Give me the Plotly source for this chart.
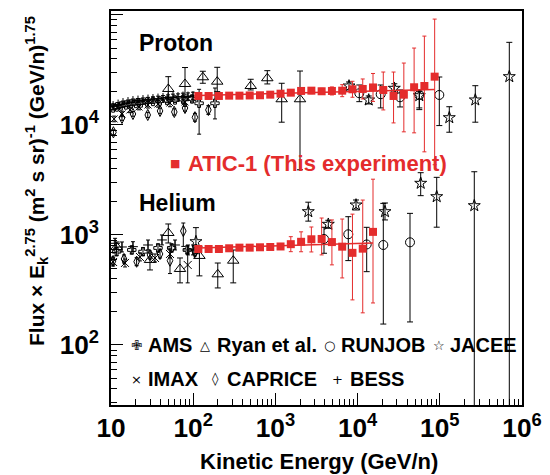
import plotly.graph_objects as go

FONT = "Liberation Sans, Arial, Helvetica, sans-serif"
SYMF = "DejaVu Sans"
RED = "#E42C2C"

# ---------------- ATIC-1 (this experiment) ----------------
atic_e = [115.5, 154.0, 205.4, 273.9, 365.2, 487.0, 649.4, 866.0, 1155, 1540, 2054, 2739,
          3652, 4870, 6494, 8660, 11548, 15399, 20535, 27384, 36517, 48697, 64938, 86596]
atic_p = [18350, 18350, 18350, 18470, 18470, 18550, 18620, 18860, 19250, 19660, 20380, 20500,
          20250, 20380, 20500, 21110, 21250, 21930, 20800, 18350, 18860, 22020, 22620, 27490]
atic_p_up = [800, 800, 800, 800, 800, 800, 800, 820, 900, 1000, 1320, 1330,
             1310, 1780, 2740, 3840, 4940, 7450, 9490, 11930, 17690, 28010, 41620, 64220]
atic_p_dn = [760, 760, 760, 760, 760, 770, 770, 780, 850, 950, 1240, 1250,
             1230, 1640, 2420, 3250, 4010, 5560, 7100, 7910, 10200, 13540, 16920, 23140]

atic_he_e = [115.5, 154.0, 205.4, 273.9, 365.2, 487.0, 649.4, 866.0, 1155, 1540, 2054, 2739,
             3652, 4870, 6494, 8660, 11548, 15399]
atic_he = [746, 746, 746, 757, 767, 767, 773, 778, 786, 825, 867, 914,
           920, 862, 783, 688, 751, 1067]
atic_he_up = [33, 33, 33, 33, 34, 34, 34, 34, 51, 140, 201, 268, 506, 508, 613, 859, 1326, 2147]
atic_he_dn = [31, 31, 31, 31, 32, 32, 32, 32, 48, 120, 163, 213, 261, 327, 376, 431, 555, 826]

fit_p_e = [115.5, 86596]
fit_p = [18550, 21020]
fit_he_e = [115.5, 15399]
fit_he = [762, 846]

# ---------------- Other experiments: protons ----------------
ams_p_e = [10.6, 11.8, 13.2, 15.2, 17.5, 20.1, 23.2, 27.4, 32.4, 39.5, 48.0, 60.1, 75.1, 96.7, 118, 184]
ams_p = [14270, 14580, 14890, 15200, 15520, 15690, 15850, 16190, 16360, 16530, 16700, 16880,
         17060, 17240, 15750, 15750]
ams_p_up = [500, 500, 520, 530, 540, 550, 560, 600, 650, 700, 800, 900, 1000, 1200, 5340, 5920]
ams_p_dn = [480, 480, 500, 510, 520, 530, 540, 580, 620, 680, 760, 850, 950, 1100, 7500, 4400]

bess_p_e = [10.6, 12.2, 14.0, 16.1, 18.5, 21.3, 24.5, 28.2, 32.4, 37.3, 42.9, 49.4, 56.8, 65.3,
            75.1, 86.4, 99.4]
bess_p = [14890, 15360, 15850, 16190, 16530, 16700, 16880, 17060, 17240, 17420, 17600, 17780,
          17970, 17970, 18160, 18160, 18350]
bess_p_up = [600, 620, 640, 660, 680, 700, 720, 750, 800, 850, 900, 1000, 1100, 1200, 1300, 1400, 1500]
bess_p_dn = [570, 590, 610, 630, 650, 670, 690, 720, 760, 800, 850, 940, 1030, 1120, 1210, 1300, 1390]

imax_p_e = [10.9, 13.6, 17.0, 21.9, 28.2, 37.3, 52.2, 79.5]
imax_p = [11340, 12590, 13690, 14580, 15200, 15520, 15850, 16190]
imax_p_up = [700, 750, 800, 900, 1000, 1100, 1300, 1600]
imax_p_dn = [650, 700, 750, 850, 950, 1000, 1200, 1450]

cap_p_e = [10.7, 13.6, 18.5, 28.0, 39.5, 58.9, 79.5, 105, 153]
cap_p = [8580, 11580, 12590, 12330, 13410, 13130, 14270, 11750, 13690]
cap_p_up = [450, 600, 650, 700, 800, 900, 1000, 1000, 1300]
cap_p_dn = [420, 560, 600, 650, 740, 830, 920, 920, 1200]

ryan_p_e = [49.8, 79.5, 131, 196, 501, 797, 1193, 1992]
ryan_p = [21250, 23590, 27140, 24750, 22620, 26580, 17130, 17130]
ryan_p_up = [6230, 9690, 3640, 8690, 3400, 4580, 6800, 13800]
ryan_p_dn = [4000, 4840, 3200, 4660, 1810, 2980, 6530, 13216]

rj_p_e = [10490, 19100, 32800, 56320, 98600]
rj_p = [19420, 19020, 17860, 18740, 18740]
rj_p_up = [3670, 4070, 2950, 2060, 8545]
rj_p_dn = [3130, 4730, 3275, 4454, 8867]

jc_p_e = [7860, 13650, 27960, 56320, 130500, 270300, 700600]
jc_p = [22620, 16880, 21560, 18470, 11650, 16880, 27490]
jc_p_up = [1970, 1470, 2130, 1610, 3000, 5870, 28890]
jc_p_dn = [1810, 1350, 1940, 4680, 3060, 6280, 27480]

# ---------------- Other experiments: helium ----------------
ryan_he_e = [11.7, 29.8, 49.8, 69.1, 119, 199, 307]
ryan_he = [778, 593, 1043, 491, 645, 439, 584]
ryan_he_up = [86, 93, 216, 127, 138, 117, 146]
ryan_he_dn = [77, 112, 197, 124, 220, 109, 217]

cap_he_e = [10.6, 14.4, 20.5, 29.8, 39.5, 52.2, 75.8, 105]
cap_he = [580, 605, 572, 658, 672, 584, 1087, 701]
cap_he_up = [50, 53, 50, 57, 58, 175, 198, 61]
cap_he_dn = [46, 48, 46, 53, 54, 138, 300, 56]

imax_he_e = [10.6, 14.8, 22.5, 34.3, 52.2, 85.7]
imax_he = [568, 557, 631, 618, 672, 534]
imax_he_up = [50, 48, 55, 54, 58, 152]
imax_he_dn = [46, 45, 50, 50, 54, 167]

bess_he_e = [11.2, 13.6, 18.5, 28.2, 41.7, 60.1, 86.4, 99.4]
bess_he = [840, 778, 783, 811, 901, 811, 731, 731]
bess_he_up = [92, 86, 86, 89, 99, 89, 80, 80]
bess_he_dn = [83, 77, 77, 80, 89, 80, 72, 72]

ams_he_e = [11.7, 17.9, 24.5, 37.3, 54.7, 84.8]
ams_he = [705, 731, 705, 762, 762, 731]
ams_he_up = [60, 62, 60, 66, 66, 63]
ams_he_dn = [56, 58, 56, 61, 61, 58]

jc_he_e = [108, 2513, 4401, 9561, 21540, 58570, 91700, 262800]
jc_he = [869, 1629, 1251, 1874, 1629, 2951, 2229, 1847]
jc_he_up = [297, 357, 109, 206, 324, 732, 1113, 1910]
jc_he_dn = [193, 293, 100, 186, 259, 674, 1052, 1837]

rj_he_e = [3902, 7707, 12900, 20540, 43400]
rj_he = [920, 1015, 820, 811, 858]
rj_he_up = [255, 451, 354, 1126, 714]
rj_he_dn = [238, 430, 356, 656, 696]

fig = go.Figure()


def add_black(name, x, y, up, dn, symbol, size, cap=3):
    fig.add_trace(go.Scatter(
        x=x, y=y, mode="markers", name=name, showlegend=False,
        marker=dict(symbol=symbol, size=size, color="black",
                    line=dict(color="black", width=1)),
        error_y=dict(type="data", symmetric=False, array=up, arrayminus=dn,
                     color="black", thickness=1, width=cap),
    ))


add_black("AMS p", ams_p_e, ams_p, ams_p_up, ams_p_dn, "cross-open", 7, 2)
add_black("BESS p", bess_p_e, bess_p, bess_p_up, bess_p_dn, "cross-thin-open", 7, 2)
add_black("IMAX p", imax_p_e, imax_p, imax_p_up, imax_p_dn, "x-thin-open", 7, 2)
add_black("CAPRICE p", cap_p_e, cap_p, cap_p_up, cap_p_dn, "diamond-tall-open", 8, 2)
add_black("Ryan p", ryan_p_e, ryan_p, ryan_p_up, ryan_p_dn, "triangle-up-open", 10)
add_black("RUNJOB p", rj_p_e, rj_p, rj_p_up, rj_p_dn, "circle-open", 9)
add_black("JACEE p", jc_p_e, jc_p, jc_p_up, jc_p_dn, "star-open", 9)

add_black("AMS He", ams_he_e, ams_he, ams_he_up, ams_he_dn, "cross-open", 7, 2)
add_black("BESS He", bess_he_e, bess_he, bess_he_up, bess_he_dn, "cross-thin-open", 7, 2)
add_black("IMAX He", imax_he_e, imax_he, imax_he_up, imax_he_dn, "x-thin-open", 8, 2)
add_black("CAPRICE He", cap_he_e, cap_he, cap_he_up, cap_he_dn, "diamond-tall-open", 8, 2)
add_black("Ryan He", ryan_he_e, ryan_he, ryan_he_up, ryan_he_dn, "triangle-up-open", 10)
add_black("RUNJOB He", rj_he_e, rj_he, rj_he_up, rj_he_dn, "circle-open", 9)
add_black("JACEE He", jc_he_e, jc_he, jc_he_up, jc_he_dn, "star-open", 9)

# ATIC fits and data
for fx, fy in ((fit_p_e, fit_p), (fit_he_e, fit_he)):
    fig.add_trace(go.Scatter(x=fx, y=fy, mode="lines", showlegend=False,
                             line=dict(color=RED, width=1.5)))
for ex, ey, eu, ed in ((atic_e, atic_p, atic_p_up, atic_p_dn),
                       (atic_he_e, atic_he, atic_he_up, atic_he_dn)):
    fig.add_trace(go.Scatter(
        x=ex, y=ey, mode="markers", name="ATIC-1", showlegend=False,
        marker=dict(symbol="square", size=8, color=RED),
        error_y=dict(type="data", symmetric=False, array=eu, arrayminus=ed,
                     color=RED, thickness=1, width=2),
    ))

# The page body has an 8px margin, so the figure is offset by 8px.
OFF = 8
W, H = 550 - OFF, 475 - OFF
PL, PR, PT, PB = 111, 522, 11, 405          # plot area in page pixels
ML, MR, MT, MB = PL - OFF, OFF + W - PR, PT - OFF, OFF + H - PB
PW, PH = PR - PL, PB - PT


def px(xp):
    return (xp - PL) / PW


def py(yp):
    return (PB - yp) / PH


ann = []


def text(x, y, s, size, color="black", xanchor="left", family=FONT, angle=0):
    ann.append(dict(x=px(x), y=py(y), xref="paper", yref="paper", text=s,
                    showarrow=False, xanchor=xanchor, yanchor="middle",
                    textangle=angle,
                    font=dict(family=family, size=size, color=color)))


text(137, 43, "<b>Proton</b>", 23)
text(137, 203, "<b>Helium</b>", 23)
text(175, 163, "■", 11, RED, "center", SYMF)
text(186, 163, "<b>ATIC-1 (This experiment)</b>", 22, RED)

legend_rows = [
    [("✙", 136, "AMS", 146), ("△", 205.3, "Ryan et al.", 215),
     ("○", 329.3, "RUNJOB", 339), ("☆", 439.3, "JACEE", 448)],
    [("×", 136, "IMAX", 146), ("◊", 215, "CAPRICE", 225), ("+", 337.7, "BESS", 348)],
]
for row, yrow in zip(legend_rows, (345, 379)):
    for sym, xs, lab, xt in row:
        text(xs, yrow, sym, 13, "black", "center", SYMF)
        text(xt, yrow, "<b>" + lab + "</b>", 20)

text(319, 461, "<b>Kinetic Energy (GeV/n)</b>", 22, xanchor="center")
text(37, 181, "<b>Flux × E<sub>k</sub><sup>2.75</sup> (m<sup>2</sup> s sr)<sup>-1</sup> "
     "(GeV/n)<sup>1.75</sup></b>", 21, xanchor="center", angle=-90)

axis_common = dict(
    type="log", dtick=1, exponentformat="power", showline=True, linecolor="black",
    linewidth=1.5, mirror=True, ticks="inside", ticklen=12, tickwidth=1,
    tickcolor="black", showgrid=False, zeroline=False, automargin=False,
    minor=dict(ticks="inside", ticklen=6, tickwidth=1, tickcolor="black", dtick="D1",
               showgrid=False),
    tickfont=dict(family=FONT, size=21, color="black", weight="bold"),
)

fig.update_layout(
    width=W, height=H, margin=dict(l=ML, r=MR, t=MT, b=MB, autoexpand=False),
    paper_bgcolor="white", plot_bgcolor="white",
    xaxis=dict(axis_common, range=[1, 6]),
    yaxis=dict(axis_common, range=[1.4545, 5.036], ticklabelstandoff=6),
    annotations=ann, showlegend=False,
)

fig.write_html("out.html")
